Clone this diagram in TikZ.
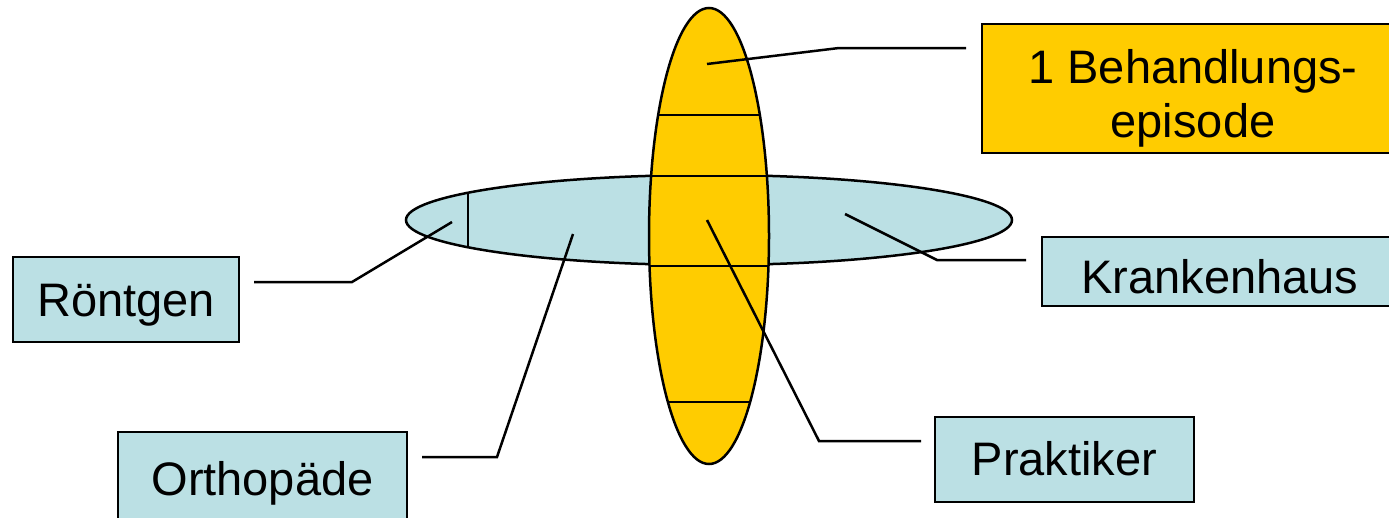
\documentclass[tikz,border=0pt]{standalone}
\usepackage{fontspec}
\setmainfont{Liberation Sans}
\definecolor{lblue}{RGB}{187,224,228}
\definecolor{gold}{RGB}{255,204,0}
\newcommand\bltxt[2]{\raisebox{-#1}[0pt][0pt]{#2}}
\begin{document}
\begin{tikzpicture}[x=1pt,y=-1pt,
  outl/.style={line width=2.5pt},
  conn/.style={line width=2.5pt, line join=miter},
  box/.style={draw, line width=2.5pt, inner sep=0pt, font=\fontsize{47}{54}\selectfont},
  bluebox/.style={box, fill=lblue},
  goldbox/.style={box, fill=gold}]
\useasboundingbox (0,0) rectangle (1389,517);
% horizontal (blue) ellipse
\coordinate (hc) at (709,220);
\fill[lblue] (hc) ellipse [x radius=303pt, y radius=45pt];
\begin{scope}
  \clip (hc) ellipse [x radius=303pt, y radius=45pt];
  \draw[outl] (468,150) -- (468,290);
\end{scope}
\draw[outl] (hc) ellipse [x radius=303pt, y radius=45pt];
% vertical (gold) ellipse
\coordinate (vc) at (709,236);
\fill[gold] (vc) ellipse [x radius=60pt, y radius=228pt];
\begin{scope}
  \clip (vc) ellipse [x radius=60pt, y radius=228pt];
  \draw[outl] (630,115) -- (790,115);
  \draw[outl] (630,176) -- (790,176);
  \draw[outl] (630,266) -- (790,266);
  \draw[outl] (630,402) -- (790,402);
\end{scope}
\draw[outl] (vc) ellipse [x radius=60pt, y radius=228pt];
% boxes
\node[goldbox, minimum width=422pt, minimum height=129pt] (beh) at (1193,88.5)
  {\bltxt{48.5pt}{\begin{tabular}[b]{@{}c@{}}1 Behandlungs-\\episode\end{tabular}}};
\node[bluebox, minimum width=356pt, minimum height=69pt] (kra) at (1220,271.5)
  {\bltxt{21.5pt}{Krankenhaus}};
\node[bluebox, minimum width=226pt, minimum height=85pt] (rnt) at (126,299.5)
  {\bltxt{16.5pt}{Röntgen}};
\node[bluebox, minimum width=289pt, minimum height=95pt] (ort) at (262.5,479.5)
  {\bltxt{15.5pt}{Orthopäde}};
\node[bluebox, minimum width=259pt, minimum height=85pt] (pra) at (1064.5,459.5)
  {\bltxt{15.5pt}{Praktiker}};
% connector points
\coordinate (behA) at (707,64);  \coordinate (behB) at (839,48);  \coordinate (behE) at (966,48);
\coordinate (kraA) at (845,214); \coordinate (kraB) at (937,260); \coordinate (kraE) at (1026,260);
\coordinate (rntA) at (452,222); \coordinate (rntB) at (352,282); \coordinate (rntE) at (254,282);
\coordinate (ortA) at (573,234); \coordinate (ortB) at (497,457); \coordinate (ortE) at (422,457);
\coordinate (praA) at (707,220); \coordinate (praB) at (819,441); \coordinate (praE) at (921,441);
\draw[conn] (behA) -- (behB) -- (behE);
\draw[conn] (kraA) -- (kraB) -- (kraE);
\draw[conn] (rntA) -- (rntB) -- (rntE);
\draw[conn] (ortA) -- (ortB) -- (ortE);
\draw[conn] (praA) -- (praB) -- (praE);
\end{tikzpicture}
\end{document}
